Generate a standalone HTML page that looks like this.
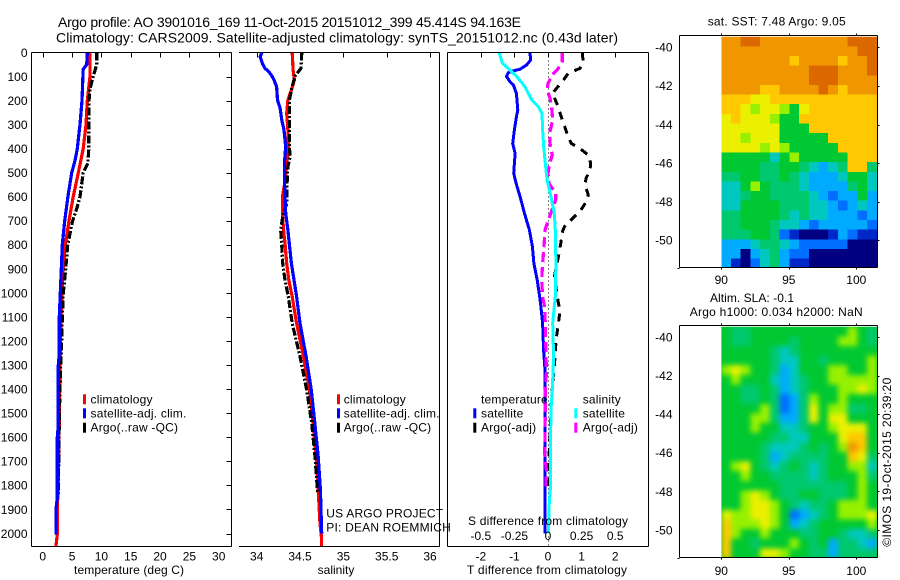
<!DOCTYPE html>
<html>
<head>
<meta charset="utf-8">
<title>Argo profile 3901016_169</title>
<style>
html,body{margin:0;padding:0;background:#fff;}
svg{display:block;}
text{font-family:"Liberation Sans",sans-serif;font-size:12px;fill:#000;}
.title{font-size:14px;}
.wide text,text.wide{letter-spacing:0.2px;}
</style>
</head>
<body>
<svg id="chart" xmlns="http://www.w3.org/2000/svg" width="900" height="580" viewBox="0 0 900 580">
<defs>
<clipPath id="clip-sst"><rect x="679.5" y="36.7" width="197.8" height="230.6"/></clipPath>
<clipPath id="clip-sla"><rect x="679.5" y="326.7" width="197.8" height="230.6"/></clipPath>
<filter id="sla-blur" x="-5%" y="-5%" width="110%" height="110%" color-interpolation-filters="sRGB"><feGaussianBlur stdDeviation="2.6"/></filter>
</defs>
<g id="heat-layer"></g>
<g id="line-layer"></g>
<g id="axis-layer"></g>
<g id="label-layer">
<text class="title" x="58" y="27" textLength="463">Argo profile: AO 3901016_169 11-Oct-2015 20151012_399 45.414S 94.163E</text>
<text class="title" x="56" y="42.5" textLength="562">Climatology: CARS2009. Satellite-adjusted climatology: synTS_20151012.nc (0.43d later)</text>
<text x="129" y="574" text-anchor="middle" textLength="110">temperature (deg C)</text>
<text x="336" y="574" text-anchor="middle">salinity</text>
<text x="547" y="574" text-anchor="middle" textLength="160">T difference from climatology</text>
<text x="548" y="525" text-anchor="middle" textLength="160">S difference from climatology</text>
<text class="wide" x="326.3" y="517.7">US ARGO PROJECT</text>
<text class="wide" x="326.3" y="531.7">PI: DEAN ROEMMICH</text>
<text x="707.7" y="25.7" textLength="138">sat. SST: 7.48 Argo: 9.05</text>
<text x="710" y="302" textLength="84">Altim. SLA: -0.1</text>
<text x="689.7" y="316" textLength="173">Argo h1000: 0.034 h2000: NaN</text>
<text transform="translate(891 546.7) rotate(-90)" textLength="169">©IMOS 19-Oct-2015 20:39:20</text>

<g class="wide">
<rect x="83" y="394.3" width="3" height="10" fill="#f00"/>
<text x="90.5" y="403.3">climatology</text>
<rect x="83" y="408.3" width="3" height="10" fill="#00f"/>
<text x="90.5" y="417.3">satellite-adj. clim.</text>
<rect x="83" y="422.7" width="3" height="10" fill="#000"/>
<text x="90.5" y="431.3">Argo(..raw -QC)</text>
</g>
<g class="wide">
<rect x="337" y="394.3" width="3" height="10" fill="#f00"/>
<text x="343.7" y="403.3">climatology</text>
<rect x="337" y="408.3" width="3" height="10" fill="#00f"/>
<text x="343.7" y="417.3">satellite-adj. clim.</text>
<rect x="337" y="422.7" width="3" height="10" fill="#000"/>
<text x="343.7" y="431.3">Argo(..raw -QC)</text>
</g>
<g class="wide">
<text x="481" y="403.3">temperature</text>
<rect x="473.3" y="408.3" width="3" height="10" fill="#00f"/>
<text x="481" y="417.3">satellite</text>
<rect x="473.3" y="422.7" width="3" height="10" fill="#000"/>
<text x="481" y="431.3">Argo(-adj)</text>
<text x="582.7" y="403.3">salinity</text>
<rect x="574.3" y="408.3" width="3" height="10" fill="#0ff"/>
<text x="582.7" y="417.3">satellite</text>
<rect x="574.3" y="422.7" width="3" height="10" fill="#f0f"/>
<text x="582.7" y="431.3">Argo(-adj)</text>
</g>
</g>
</svg>
<script>
const depthTickLabels = [0,100,200,300,400,500,600,700,800,900,1000,1100,1200,1300,1400,1500,1600,1700,1800,1900,2000];
const tempTickLabels = [0,5,10,15,20,25,30];
const salTickLabels = ['34','34.5','35','35.5','36'];
const diffTTickLabels = ['-2','-1','0','1','2'];
const diffSTickLabels = ['-0.5','-0.25','0','0.25','0.5'];
const lonTickLabels = [90,95,100];
const latTickLabels = [-40,-42,-44,-46,-48,-50];

const tempClimDepths = [0,100,200,300,400,500,600,700,800,900,1000,1100,1300,1500,1700,1900,2000,2052];
const tempClimValues = [8.06,8.06,7.6,7.38,6.9,6.07,5.2,4.48,3.85,3.5,3.29,3.12,2.95,2.84,2.72,2.5,2.5,2.27];
const tempSatDepths = [0,50,70,100,200,300,400,450,500,600,700,800,900,1000,1100,1250,1300,1550,1600,1850,1900,2005];
const tempSatValues = [7.6,7.5,6.9,6.85,6.7,6.36,5.9,5.5,4.94,4.3,3.75,3.34,3.17,3.0,2.83,2.83,2.66,2.66,2.49,2.49,2.27,2.27];
const tempArgoDepths = [0,50,100,150,200,300,400,460,500,600,650,700,800,900,1000,1100,1200,1300,1400,1500,1700,1835];
const tempArgoValues = [9.2,9.2,8.63,8.06,7.9,7.85,7.85,7.7,6.9,6.36,5.8,5.1,4.26,3.92,3.51,3.34,3.24,3.07,2.95,2.84,2.72,2.68];

const salClimDepths = [0,73,114,156,197,253,322,392,461,530,600,669,738,807,877,946,1015,1126,1264,1403,1541,1680,1819,1958,2013,2052];
const salClimValues = [34.41,34.42,34.435,34.40,34.36,34.346,34.36,34.365,34.346,34.33,34.296,34.296,34.31,34.33,34.346,34.37,34.41,34.46,34.54,34.61,34.65,34.685,34.71,34.73,34.746,34.746];
const salSatDepths = [0,17,45,66,80,94,114,142,197,232,281,322,392,461,530,600,669,738,807,877,946,1015,1126,1264,1403,1541,1680,1819,1958,2000];
const salSatValues = [34.06,34.04,34.065,34.096,34.14,34.17,34.2,34.23,34.24,34.27,34.29,34.315,34.335,34.32,34.32,34.327,34.335,34.36,34.38,34.40,34.43,34.46,34.5,34.57,34.63,34.67,34.71,34.735,34.746,34.75];
const salArgoDepths = [0,66,100,156,197,253,322,392,433,475,572,627,683,738,807,877,946,1015,1126,1264,1403,1541,1680,1835];
const salArgoValues = [34.52,34.51,34.44,34.40,34.377,34.377,34.377,34.377,34.385,34.36,34.346,34.346,34.3,34.277,34.29,34.3,34.327,34.365,34.41,34.5,34.577,34.635,34.673,34.704];

const diffTSatDepths = [0,31,52,70,76,84,100,121,135,170,239,267,322,378,420,461,502,544,600,669,738,807,877,946,1022,1057,1126,1237,1320,1487,2000];
const diffTSatValues = [-0.537,-0.517,-0.637,-0.836,-1.035,-1.184,-1.234,-1.134,-1.03,-0.94,-0.9,-0.94,-1.0,-1.05,-0.98,-1.0,-1.02,-0.95,-0.83,-0.7,-0.555,-0.465,-0.42,-0.32,-0.24,-0.21,-0.16,-0.13,-0.09,-0.09,-0.09];
const diffTArgoDepths = [0,45,66,87,114,170,211,239,281,309,350,378,399,426,461,489,523,551,593,620,655,683,724,745,793,849,932,1043,1071,1126,1195,1264,1389,1472,1583,1652,1722,1819];
const diffTArgoValues = [1.02,1.05,0.95,0.6,0.46,0.13,0.26,0.33,0.43,0.5,0.6,0.69,0.95,1.2,1.27,1.25,1.13,1.1,1.2,1.14,0.98,0.78,0.49,0.43,0.38,0.31,0.19,0.31,0.36,0.31,0.24,0.21,0.13,0.09,0.06,0.04,0.02,0.01];
const diffSSatDepths = [0,45,73,100,142,197,225,253,322,392,461,530,600,669,738,877,1015,1057,1126,1264,1403,1487,1680,1819,1874,2000];
const diffSSatValues = [-0.364,-0.339,-0.282,-0.233,-0.171,-0.121,-0.072,-0.045,-0.04,-0.032,-0.02,-0.007,0.022,0.047,0.054,0.059,0.054,0.047,0.035,0.042,0.032,0.022,0.017,0.017,0.01,0.002];
const diffSArgoDepths = [0,38,66,94,128,156,190,225,281,336,392,426,461,502,544,586,613,655,690,738,807,877,946,1015,1057,1126,1195,1334,1403,1472,1597,1666,1736,1805,1826];
const diffSArgoValues = [0.106,0.106,0.077,0.032,0,-0.007,0.015,0.027,0.035,0.012,0.017,0.032,0.012,0,0.007,0.057,0.057,0.03,0.007,-0.022,-0.03,-0.04,-0.047,-0.04,-0.025,-0.02,-0.017,-0.012,-0.02,-0.02,-0.022,-0.025,-0.012,-0.015,-0.015];

const sstRows = [
[10,10,11,11,10,10,10,10,10,10,10,10,10,11,11,11],
[10,10,10,10,10,10,10,10,10,10,10,10,10,10,11,11],
[10,10,10,10,10,10,10,9,10,10,10,10,9,10,10,11],
[10,10,10,10,10,10,10,10,10,11,11,11,10,10,10,11],
[10,10,10,10,10,10,10,10,10,11,11,11,10,10,10,10],
[10,10,10,10,9,9,10,10,10,10,11,10,9,10,10,10],
[9,9,9,8,8,9,9,9,9,9,9,9,9,9,9,9],
[9,9,8,7,8,8,7,6,8,9,9,9,9,9,9,9],
[8,9,8,8,8,7,6,6,9,9,9,9,9,9,9,9],
[8,8,8,8,8,8,6,6,6,9,9,9,9,9,9,9],
[8,8,7,8,8,8,6,6,6,6,6,9,9,9,9,9],
[8,8,8,8,7,8,7,6,6,6,6,6,9,9,9,9],
[6,6,6,6,6,4,6,7,6,6,6,6,6,9,9,9],
[6,6,6,6,5,5,6,6,5,4,3,4,5,9,9,5],
[5,5,6,6,5,5,6,5,4,3,3,3,4,6,6,4],
[4,4,6,7,6,5,5,5,4,3,3,3,3,5,6,4],
[4,4,5,6,6,5,5,5,5,4,3,2,3,3,6,3],
[4,4,6,6,6,6,5,5,5,4,4,3,2,3,4,3],
[5,5,6,6,6,6,5,4,5,4,4,3,3,3,2,3],
[5,5,6,6,6,5,4,4,3,2,3,3,3,3,3,2],
[5,5,5,6,6,5,2,1,0,0,0,1,3,2,1,1],
[3,3,3,4,5,5,4,3,2,2,2,2,2,0,0,0],
[3,3,0,3,4,5,3,2,2,0,0,0,0,0,0,0],
[3,1,0,2,4,5,3,1,1,0,0,0,0,0,0,0]
];
const slaRows = [
[6,5,5,6,6,6,6,6,6,6,6,6,6,7,6,5],
[6,5,5,6,6,6,6,5,6,6,6,6,7,7,6,5],
[6,6,6,6,6,5,4,5,6,6,6,6,6,6,6,6],
[6,6,6,6,6,5,4,4,6,6,5,6,6,6,6,7],
[7,8,7,6,6,5,3,4,6,6,6,7,7,6,6,7],
[6,7,6,6,6,4,3,4,5,6,6,7,7,7,7,7],
[6,6,5,5,6,5,3,4,5,6,6,6,7,7,8,7],
[6,6,5,5,6,5,2,3,5,7,6,6,7,6,6,6],
[6,6,6,6,7,5,2,3,5,8,6,7,7,5,5,6],
[6,6,6,7,7,5,3,3,5,8,6,8,8,6,6,6],
[6,6,6,7,6,6,4,4,5,6,6,7,8,8,8,6],
[6,6,6,6,6,5,5,4,4,6,6,6,8,9,9,6],
[6,6,6,6,5,4,4,4,5,6,5,6,7,10,9,6],
[6,6,6,6,5,3,4,5,5,5,5,6,6,9,8,5],
[6,7,8,6,5,4,5,6,5,4,5,6,6,7,7,4],
[6,6,7,6,6,5,5,5,5,4,5,6,6,6,7,5],
[6,6,6,6,6,6,5,5,5,5,5,5,5,6,7,6],
[6,6,7,8,7,6,5,5,6,6,5,5,5,6,7,6],
[6,6,7,8,8,7,6,5,4,5,5,6,7,7,7,6],
[8,7,7,8,8,7,6,2,3,4,5,6,7,7,7,8],
[9,7,7,7,8,7,6,3,4,5,6,6,6,6,6,7],
[9,7,6,6,7,6,6,6,5,5,6,6,5,4,4,5],
[9,6,6,5,6,6,6,7,6,5,6,3,5,5,4,3],
[9,6,6,6,8,8,7,6,6,5,5,3,5,5,5,5]
];

const NS = 'http://www.w3.org/2000/svg';
const heatLayer = document.getElementById('heat-layer');
const lineLayer = document.getElementById('line-layer');
const axisLayer = document.getElementById('axis-layer');

function make(tag, attrs, parent) {
  const el = document.createElementNS(NS, tag);
  for (const k in attrs) el.setAttribute(k, attrs[k]);
  parent.appendChild(el);
  return el;
}

const PLOT_TOP = 52.5, PLOT_BOTTOM = 546;
function depthY(d) { return 52.5 + d * 0.2405; }
function tempX(t) { return 42.7 + t * 5.867; }
function salX(s) { return 256.7 + (s - 34) * 86.67; }
function diffTX(t) { return 548 + t * 33.6; }
function diffSX(s) { return 548 + s * 4 * 33.6; }
function lonX(lon) { return 721.3 + (lon - 90) * 13.5; }
function latYTop(lat) { return 47.3 + (-40 - lat) * 19.3; }
function latYBottom(lat) { return 337.3 + (-40 - lat) * 19.27; }

function profile(depths, values, xf, color, width, dash, name) {
  const pts = depths.map(function (d, i) { return xf(values[i]).toFixed(1) + ',' + depthY(d).toFixed(1); }).join(' ');
  const el = make('polyline', {points: pts, fill: 'none', stroke: color, 'stroke-width': width, 'stroke-linejoin': 'round', 'shape-rendering': 'crispEdges'}, lineLayer);
  if (dash) el.setAttribute('stroke-dasharray', dash);
  
  
}

profile(tempClimDepths, tempClimValues, tempX, '#f00', 3.2, null, 'temperature-climatology-line');
profile(tempArgoDepths, tempArgoValues, tempX, '#000', 3.2, '8 2 2 2', 'temperature-argo-line');
profile(tempSatDepths, tempSatValues, tempX, '#00f', 3.2, null, 'temperature-satellite-line');
profile(salClimDepths, salClimValues, salX, '#f00', 3.2, null, 'salinity-climatology-line');
profile(salArgoDepths, salArgoValues, salX, '#000', 3.2, '8 2 2 2', 'salinity-argo-line');
profile(salSatDepths, salSatValues, salX, '#00f', 3.2, null, 'salinity-satellite-line');

const zeroLine = make('line', {x1: diffTX(0) + 0.5, x2: diffTX(0) + 0.5, y1: PLOT_TOP, y2: PLOT_BOTTOM, stroke: '#000', 'stroke-width': 1, 'stroke-dasharray': '1 3', 'shape-rendering': 'crispEdges'}, lineLayer);


profile(diffTSatDepths, diffTSatValues, diffTX, '#00f', 3, null, 'difference-t-satellite-line');
profile(diffTArgoDepths, diffTArgoValues, diffTX, '#000', 3, '8 7', 'difference-t-argo-line');
profile(diffSArgoDepths, diffSArgoValues, diffSX, '#f0f', 3.2, '10 5', 'difference-s-argo-line');
profile(diffSSatDepths, diffSSatValues, diffSX, '#0ff', 3, null, 'difference-s-satellite-line');

const colourStops = [[0,0,128],[0,40,200],[0,110,255],[0,170,255],[0,200,190],[0,200,110],[0,200,50],[150,240,0],[235,240,0],[255,200,0],[240,150,0],[220,105,0],[200,70,0]];
function levelColour(v) {
  const c = Math.max(0, Math.min(12, v));
  const i = Math.min(11, Math.floor(c));
  const f = c - i;
  const a = colourStops[i], b = colourStops[i + 1];
  return 'rgb(' + [0,1,2].map(function (k) { return Math.round(a[k] + (b[k] - a[k]) * f); }).join(',') + ')';
}

function heatmap(rows, latY, group, name) {
  rows.forEach(function (row, r) {
    const lat = -39.45 - 0.5 * r;
    row.forEach(function (v, c) {
      const lon = 90 + 0.72 * c;
      const cell = make('rect', {x: lonX(lon).toFixed(2), y: latY(lat).toFixed(2), width: (0.72 * 13.5 + 0.6).toFixed(2), height: '10.3', fill: levelColour(v), 'shape-rendering': 'crispEdges'}, group);
      
      
    });
  });
}

const sstGroup = make('g', {'clip-path': 'url(#clip-sst)'}, heatLayer);


heatmap(sstRows, latYTop, sstGroup, 'sst-cell');

const slaClip = make('g', {'clip-path': 'url(#clip-sla)'}, heatLayer);


const slaBack = make('rect', {x: lonX(90), y: 326.7, width: 156, height: 231, fill: levelColour(6)}, slaClip);


const slaGroup = make('g', {filter: 'url(#sla-blur)'}, slaClip);


heatmap(slaRows, latYBottom, slaGroup, 'sla-cell');
const slaMask = make('rect', {x: 679.5, y: 326.7, width: lonX(90) - 679.5, height: 231, fill: '#fff'}, slaClip);



function seg(x1, y1, x2, y2, name) {
  const el = make('line', {x1: x1, y1: y1, x2: x2, y2: y2, stroke: '#000', 'stroke-width': 1, 'shape-rendering': 'crispEdges'}, axisLayer);
  
  
}
function label(x, y, str, anchor, name) {
  const el = make('text', {x: x, y: y, 'text-anchor': anchor}, axisLayer);
  el.textContent = str;
  
  
}

/* spines */
seg(31.5, 52.5, 231.5, 52.5, 'temperature-top-spine');
seg(31.5, 546.5, 231.5, 546.5, 'temperature-bottom-spine');
seg(31.5, 52.5, 31.5, 546.5, 'temperature-left-spine');
seg(231.5, 52.5, 231.5, 546.5, 'temperature-right-spine');
seg(239, 52.5, 439.5, 52.5, 'salinity-top-spine');
seg(239, 546.5, 439.5, 546.5, 'salinity-bottom-spine');
seg(439.5, 52.5, 439.5, 546.5, 'salinity-right-spine');
seg(447.5, 52.5, 648.5, 52.5, 'difference-top-spine');
seg(447.5, 546.5, 648.5, 546.5, 'difference-bottom-spine');
seg(447.5, 52.5, 447.5, 546.5, 'difference-left-spine');
seg(648.5, 52.5, 648.5, 546.5, 'difference-right-spine');

/* depth ticks */
depthTickLabels.forEach(function (d) {
  const y = Math.round(depthY(d)) + 0.5;
  if (d > 0) seg(226.5, y, 231.5, y, 'depth-tick');
  label(27.5, depthY(d) + 4.3, String(d), 'end', 'depth-tick-label');
});
/* temperature ticks */
tempTickLabels.forEach(function (t) {
  const x = Math.round(tempX(t)) + 0.5;
  seg(x, 52.5, x, 57.5, 'temperature-tick');
  label(tempX(t), 560.5, String(t), 'middle', 'temperature-tick-label');
});
/* salinity ticks */
salTickLabels.forEach(function (s) {
  const v = parseFloat(s);
  const x = Math.round(salX(v)) + 0.5;
  seg(x, 52.5, x, 57.5, 'salinity-tick');
  label(salX(v), 560.5, s, 'middle', 'salinity-tick-label');
});
/* difference ticks */
diffTTickLabels.forEach(function (s) {
  const v = parseFloat(s);
  const x = Math.round(diffTX(v)) + 0.5;
  seg(x, 52.5, x, 57.5, 'difference-tick');
  label(diffTX(v), 560.5, s, 'middle', 'difference-t-tick-label');
});
diffSTickLabels.forEach(function (s) {
  const v = parseFloat(s);
  label(diffSX(v), 540, s, 'middle', 'difference-s-tick-label');
});

/* map frames */
function mapFrame(top, bottom, latY, xLabelY, prefix) {
  seg(679.5, top, 877.5, top, prefix + '-top-spine');
  seg(679.5, bottom, 877.5, bottom, prefix + '-bottom-spine');
  seg(679.5, top, 679.5, bottom, prefix + '-left-spine');
  seg(877.5, top, 877.5, bottom, prefix + '-right-spine');
  seg(677.5, bottom + 1, 679.5, bottom + 1, prefix + '-corner-tick');
  lonTickLabels.forEach(function (lon) {
    const x = Math.round(lonX(lon)) + 0.5;
    seg(x, top - 2, x, top, prefix + '-lon-tick');
    seg(x, bottom, x, bottom + 2, prefix + '-lon-tick');
    label(lonX(lon), xLabelY, String(lon), 'middle', prefix + '-lon-label');
  });
  latTickLabels.forEach(function (lat) {
    const y = Math.round(latY(lat)) + 0.5;
    seg(877.5, y, 879.5, y, prefix + '-lat-tick');
    label(672.5, latY(lat) + 4.3, String(lat), 'end', prefix + '-lat-label');
  });
}
mapFrame(35.5, 267.5, latYTop, 284, 'sst-map');
mapFrame(325.5, 557.5, latYBottom, 575, 'sla-map');
</script>
</body>
</html>
